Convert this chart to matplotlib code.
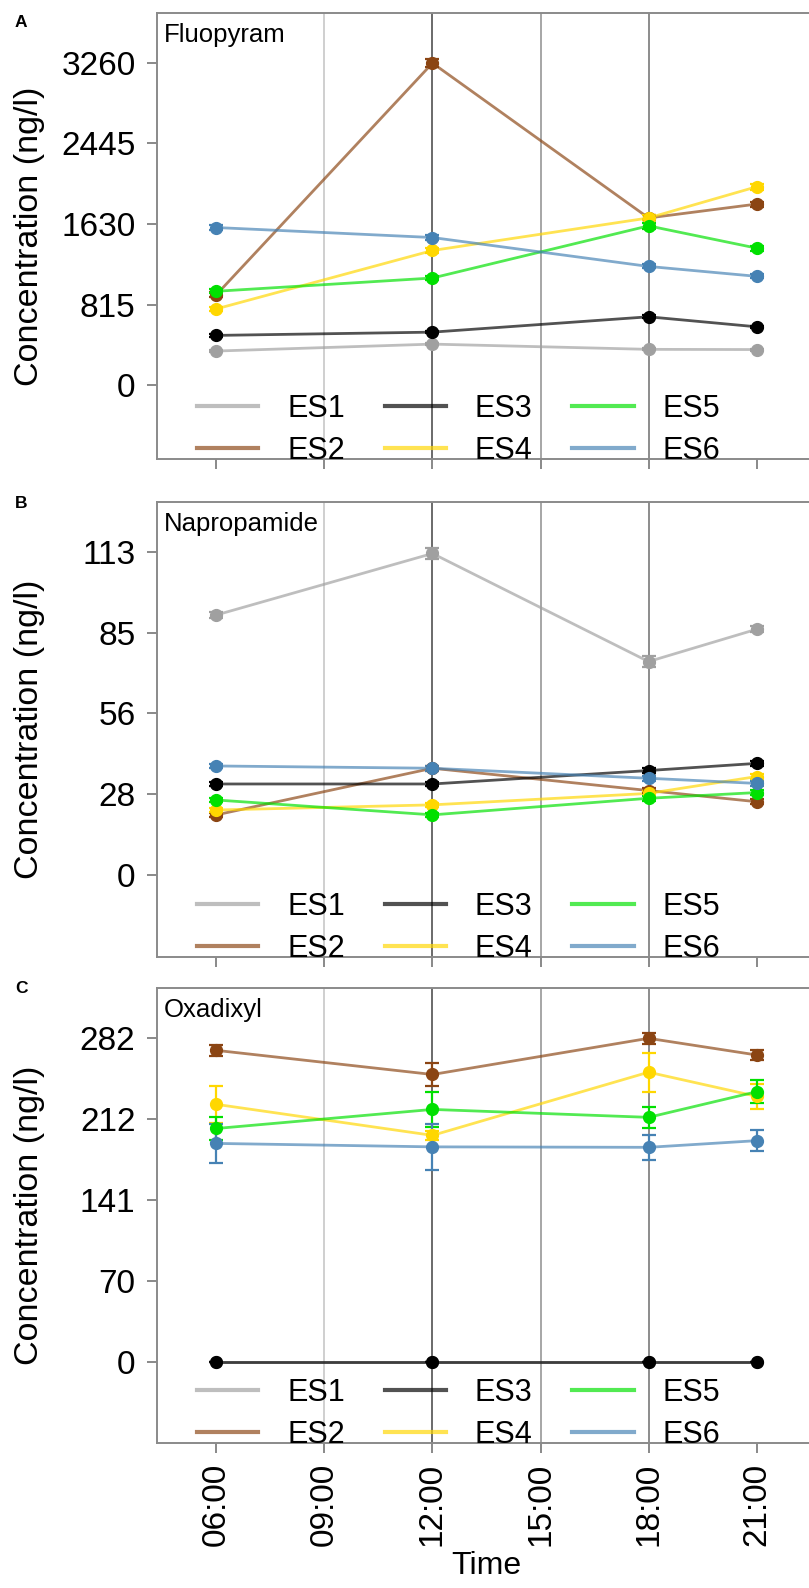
import matplotlib
matplotlib.use("Agg")
import matplotlib.pyplot as plt
import numpy as np

plt.rcParams['font.family'] = ['Liberation Sans', 'DejaVu Sans']

# sampling times (hours) and tick labels
hours = [6, 12, 18, 21]
tick_hours = [6, 9, 12, 15, 18, 21]
tick_labels = ["06:00", "09:00", "12:00", "15:00", "18:00", "21:00"]
sites = ["ES1", "ES2", "ES3", "ES4", "ES5", "ES6"]

# Fluopyram (ng/l)
fluo = {
    "ES1": [345, 415, 362, 360],
    "ES2": [915, 3255, 1690, 1830],
    "ES3": [503, 536, 691, 590],
    "ES4": [771, 1361, 1690, 2005],
    "ES5": [949, 1083, 1610, 1385],
    "ES6": [1593, 1492, 1200, 1100],
}
fluo_err = {
    "ES1": [10, 12, 10, 10],
    "ES2": [25, 40, 25, 25],
    "ES3": [12, 12, 15, 12],
    "ES4": [20, 25, 25, 30],
    "ES5": [20, 20, 30, 25],
    "ES6": [25, 25, 20, 20],
}

# Napropamide (ng/l)
napro = {
    "ES1": [90.9, 112.4, 74.6, 85.9],
    "ES2": [21.0, 37.3, 29.5, 25.6],
    "ES3": [31.8, 31.8, 36.5, 39.0],
    "ES4": [22.7, 24.5, 28.5, 34.4],
    "ES5": [26.2, 21.0, 26.8, 28.8],
    "ES6": [38.1, 37.3, 33.8, 32.0],
}
napro_err = {
    "ES1": [1.0, 2.0, 2.0, 1.0],
    "ES2": [0.8, 0.8, 0.8, 0.8],
    "ES3": [0.6, 0.6, 0.8, 1.0],
    "ES4": [0.8, 0.8, 0.8, 1.0],
    "ES5": [0.8, 0.8, 0.8, 0.8],
    "ES6": [0.8, 0.8, 0.8, 0.8],
}

# Oxadixyl (ng/l)
oxa = {
    "ES1": [0, 0, 0, 0],
    "ES2": [271, 250, 281.5, 267],
    "ES3": [0, 0, 0, 0],
    "ES4": [224, 197, 252, 231],
    "ES5": [203, 219.6, 212.7, 235],
    "ES6": [190, 187, 186.6, 192.4],
}
oxa_err = {
    "ES1": [0, 0, 0, 0],
    "ES2": [5, 10, 5, 4],
    "ES3": [0, 0, 0, 0],
    "ES4": [16, 4, 17, 11],
    "ES5": [10, 15, 9, 10],
    "ES6": [17, 20, 11, 9],
}

colors = {
    "ES1": "#a0a0a0",
    "ES2": "#8b4513",
    "ES3": "#000000",
    "ES4": "#ffd700",
    "ES5": "#00e000",
    "ES6": "#4682b4",
}

panels = [
    ("A", "Fluopyram", fluo, fluo_err, 3260, (-746, 3761)),
    ("B", "Napropamide", napro, napro_err, 113, (-28.7, 130.4)),
    ("C", "Oxadixyl", oxa, oxa_err, 282, (-70.8, 325.3)),
]
# axes boxes in pixels: (top, bottom)
boxes = [(13, 459), (502, 957), (988, 1443)]
letter_base = [27, 508, 993]

W, H = 809, 1588
fig = plt.figure(figsize=(W / 100, H / 100), dpi=100)
left_px, right_px = 157, 816
aw = right_px - left_px
vline_col = {9: "#cfcfcf", 12: "#6a6a6a", 15: "#a6a6a6", 18: "#8c8c8c"}

for i, (letter, name, data, err, ymax, ylim) in enumerate(panels):
    top, bot = boxes[i]
    ah = bot - top
    ax = fig.add_axes([left_px / W, 1 - bot / H, aw / W, ah / H])
    ax.set_xlim(4.35, 22.65)
    ax.set_ylim(*ylim)
    for h, c in vline_col.items():
        ax.axvline(h, color=c, lw=1.4, zorder=1)

    handles = []
    for s in sites:
        y = np.array(data[s], dtype=float)
        e = np.array(err[s], dtype=float)
        ln, = ax.plot(hours, y, color=colors[s], lw=2, alpha=0.68, zorder=2)
        ax.errorbar(hours, y, yerr=e, fmt="o", color=colors[s], ms=8.5,
                    capsize=5, elinewidth=1.6, capthick=1.6, zorder=3)
        handles.append(ln)

    yt = np.linspace(0, ymax, 5)
    ax.set_yticks(yt)
    ax.set_yticklabels([str(int(np.round(v))) for v in yt])
    ax.set_xticks(tick_hours)
    if i == 2:
        ax.set_xticklabels(tick_labels, rotation=90)
        ax.set_xlabel("Time", fontsize=23, labelpad=4)
    else:
        ax.set_xticklabels([])
    ax.tick_params(axis="y", length=7, width=1.3, color="#808080", pad=8.5, labelsize=24)
    ax.tick_params(axis="x", length=7, width=1.3, color="#808080", pad=7, labelsize=24)
    for sp in ax.spines.values():
        sp.set_color("#8a8a8a")
        sp.set_linewidth(1.4)
    ax.set_ylabel("Concentration (ng/l)", fontsize=24.5)
    ax.yaxis.set_label_coords(-(left_px - 45) / aw, 0.5)
    ax.text(7 / aw, 1 - 10 / ah, name, transform=ax.transAxes,
            fontsize=18.5, va="top", ha="left")

    leg = ax.legend(handles, sites, ncol=3, loc="lower left", frameon=False,
                    bbox_to_anchor=(28 / aw, -19 / ah),
                    borderaxespad=0, fontsize=22, handlelength=2.0, handletextpad=0.95,
                    columnspacing=1.3, labelspacing=0.4)
    for lh in leg.get_lines():
        lh.set_linewidth(3)

    fig.text(15 / W, 1 - letter_base[i] / H, letter,
             fontsize=12.5, fontweight="bold", ha="left", va="baseline")

fig.savefig("out.png", dpi=100)
